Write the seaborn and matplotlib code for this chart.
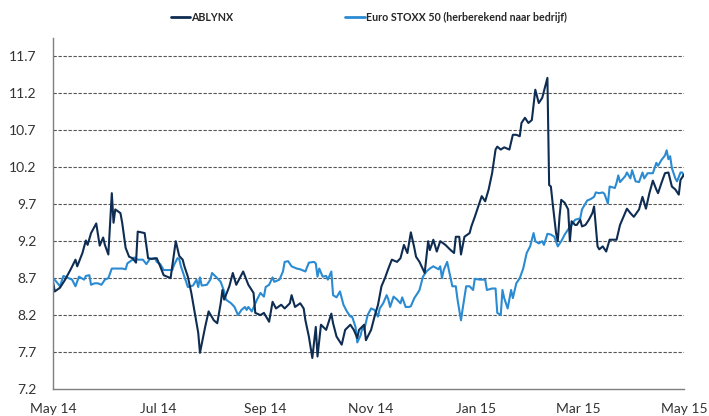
import pandas as pd
import numpy as np
import matplotlib
matplotlib.use('Agg')
import matplotlib.pyplot as plt
import matplotlib.dates as mdates
import seaborn as sns

# dagen sinds 1 mei 2014
ablynx_days = [0, 1, 4, 7, 10, 13, 14, 17, 19, 20, 22, 25, 27, 29, 30, 32, 34, 35, 36, 39,
               40, 42, 44, 46, 48, 49, 53, 55, 57, 60, 62, 64, 68, 71, 73, 75, 76, 78, 80, 82,
               84, 85, 88, 90, 93, 95, 97, 98, 99, 102, 104, 106, 108, 110, 113, 116, 117, 120, 122, 125,
               127, 129, 132, 134, 137, 138, 140, 143, 145, 146, 148, 150, 152, 153, 155, 158, 161, 162, 164, 167,
               169, 172, 174, 176, 177, 180, 181, 184, 186, 188, 190, 192, 194, 196, 199, 201, 203, 205, 207, 209,
               210, 212, 215, 217, 218, 220, 222, 224, 227, 230, 232, 233, 235, 236, 238, 241, 242, 244, 246, 248,
               250, 252, 254, 256, 257, 259, 261, 264, 266, 268, 270, 271, 273, 275, 277, 279, 281, 283, 286, 287,
               288, 289, 291, 292, 293, 294, 296, 298, 299, 300, 302, 303, 305, 306, 308, 310, 312, 313, 315, 316,
               318, 320, 322, 324, 326, 328, 330, 332, 334, 336, 339, 341, 343, 345, 347, 349, 350, 352, 354, 356,
               358, 360, 362, 363, 365]
ablynx = [8.65, 8.52, 8.57, 8.68, 8.81, 8.95, 8.86, 9.04, 9.21, 9.15, 9.31, 9.44, 9.14, 9.25, 9.15, 9.02, 9.85, 9.45, 9.63, 9.58,
          9.45, 9.11, 8.99, 8.97, 8.91, 9.33, 9.31, 8.97, 8.96, 8.97, 8.86, 8.74, 8.70, 9.20, 9.00, 8.95, 8.86, 8.72, 8.50, 8.23,
          7.96, 7.69, 8.04, 8.25, 8.13, 8.09, 8.36, 8.54, 8.41, 8.59, 8.77, 8.61, 8.70, 8.79, 8.61, 8.50, 8.23, 8.20, 8.23, 8.11,
          8.38, 8.29, 8.34, 8.29, 8.36, 8.47, 8.31, 8.36, 8.29, 8.13, 7.91, 7.62, 8.04, 7.64, 8.07, 8.00, 8.22, 8.09, 7.91, 7.80,
          8.00, 8.07, 8.00, 7.89, 8.00, 8.07, 7.86, 8.00, 8.18, 8.34, 8.59, 8.70, 8.83, 8.95, 8.92, 8.97, 9.15, 9.04, 9.32, 9.11,
          8.99, 8.92, 8.77, 9.20, 9.08, 9.22, 9.06, 9.20, 9.15, 9.08, 9.04, 9.26, 9.26, 9.02, 9.26, 9.31, 9.40, 9.53, 9.67, 9.81,
          9.74, 9.90, 10.12, 10.44, 10.48, 10.44, 10.47, 10.44, 10.64, 10.64, 10.62, 10.80, 10.87, 10.80, 10.84, 11.25, 11.07, 11.14, 11.41, 9.96,
          9.94, 9.72, 9.31, 9.20, 9.53, 9.76, 9.72, 9.63, 9.20, 9.47, 9.42, 9.42, 9.49, 9.40, 9.42, 9.49, 9.58, 9.67, 9.13, 9.09,
          9.13, 9.06, 9.22, 9.22, 9.22, 9.42, 9.53, 9.64, 9.58, 9.53, 9.63, 9.80, 9.64, 9.85, 10.02, 9.90, 9.85, 9.99, 10.12, 10.13,
          9.94, 9.90, 9.83, 10.03, 10.10]

stoxx_days = [0, 2, 4, 6, 9, 11, 13, 15, 18, 19, 21, 22, 24, 26, 28, 30, 32, 34, 37, 40,
              42, 43, 46, 47, 49, 52, 54, 56, 59, 60, 62, 64, 66, 69, 70, 72, 73, 74, 76, 78,
              81, 83, 84, 85, 86, 89, 91, 92, 95, 97, 99, 100, 103, 105, 107, 109, 111, 112, 113, 115,
              118, 120, 122, 123, 125, 127, 128, 131, 133, 134, 136, 138, 141, 143, 146, 148, 151, 152, 153, 154,
              156, 158, 159, 161, 162, 164, 166, 168, 170, 172, 173, 175, 176, 178, 179, 180, 182, 184, 186, 188,
              189, 191, 193, 194, 195, 197, 199, 201, 202, 204, 206, 207, 209, 211, 212, 214, 216, 218, 220, 223,
              224, 225, 226, 228, 231, 233, 234, 236, 237, 239, 241, 243, 244, 247, 250, 251, 254, 256, 257, 259,
              260, 261, 263, 265, 266, 268, 270, 272, 274, 276, 278, 279, 281, 283, 284, 286, 288, 290, 292, 294,
              296, 298, 300, 302, 305, 306, 307, 309, 311, 313, 314, 316, 318, 319, 321, 322, 325, 326, 327, 328,
              331, 332, 334, 335, 337, 339, 341, 342, 344, 347, 349, 350, 352, 354, 355, 356, 357, 358, 360, 361,
              363, 364, 365]
stoxx = [8.70, 8.65, 8.59, 8.73, 8.70, 8.68, 8.59, 8.72, 8.68, 8.73, 8.74, 8.61, 8.63, 8.63, 8.61, 8.68, 8.70, 8.83, 8.83, 8.83,
         8.82, 8.90, 8.95, 8.98, 8.95, 8.95, 8.89, 8.96, 8.97, 8.92, 8.89, 8.81, 8.81, 8.81, 8.88, 8.97, 8.96, 8.86, 8.72, 8.58,
         8.60, 8.68, 8.58, 8.71, 8.60, 8.61, 8.68, 8.77, 8.70, 8.65, 8.52, 8.41, 8.36, 8.31, 8.20, 8.27, 8.31, 8.27, 8.31, 8.25,
         8.41, 8.50, 8.45, 8.58, 8.61, 8.71, 8.65, 8.68, 8.79, 8.92, 8.93, 8.86, 8.83, 8.82, 8.79, 8.91, 8.92, 8.90, 8.72, 8.83,
         8.72, 8.73, 8.68, 8.79, 8.47, 8.44, 8.52, 8.34, 8.25, 8.18, 8.18, 8.04, 7.83, 7.93, 8.04, 8.00, 8.20, 8.29, 8.27, 8.18,
         8.29, 8.36, 8.47, 8.41, 8.31, 8.45, 8.41, 8.36, 8.44, 8.31, 8.31, 8.32, 8.43, 8.50, 8.54, 8.72, 8.79, 8.83, 8.86, 8.82,
         8.86, 8.70, 8.81, 8.92, 8.59, 8.59, 8.41, 8.13, 8.29, 8.59, 8.59, 8.54, 8.69, 8.68, 8.68, 8.54, 8.56, 8.56, 8.23, 8.20,
         8.54, 8.43, 8.29, 8.54, 8.43, 8.63, 8.70, 8.83, 9.04, 9.13, 9.31, 9.20, 9.17, 9.20, 9.15, 9.30, 9.29, 9.26, 9.13, 9.20,
         9.29, 9.36, 9.42, 9.49, 9.51, 9.63, 9.67, 9.75, 9.77, 9.80, 9.86, 9.85, 9.86, 9.84, 9.71, 9.94, 9.92, 9.99, 10.09, 10.00,
         10.08, 10.13, 10.05, 10.16, 10.01, 10.00, 10.13, 10.05, 10.12, 10.12, 10.26, 10.22, 10.30, 10.36, 10.43, 10.31, 10.35, 10.19, 10.05, 10.01,
         10.13, 10.13, 10.08]

names = ['ABLYNX', 'Euro STOXX 50 (herberekend naar bedrijf)']
colors = ['#0f2d52', '#2a8bd2']
yticks = [7.2, 7.7, 8.2, 8.7, 9.2, 9.7, 10.2, 10.7, 11.2, 11.7]
xticks = ['2014-05-01', '2014-07-01', '2014-09-01', '2014-11-01', '2015-01-01', '2015-03-01', '2015-05-01']

start = pd.Timestamp('2014-05-01')
df = pd.concat([
    pd.DataFrame({'datum': start + pd.to_timedelta(ablynx_days, unit='D'), 'koers': ablynx, 'reeks': names[0]}),
    pd.DataFrame({'datum': start + pd.to_timedelta(stoxx_days, unit='D'), 'koers': stoxx, 'reeks': names[1]}),
])

sns.set_style('white')
plt.rcParams['font.family'] = ['Lato', 'DejaVu Sans']

fig = plt.figure(figsize=(7.09, 4.16), dpi=100)
ax = fig.add_axes([0.0748, 0.0649, 0.8899, 0.8438])

# lichtblauw eerst zodat ABLYNX erboven ligt
sns.lineplot(data=df, x='datum', y='koers', hue='reeks', hue_order=names[::-1],
             palette=colors[::-1], linewidth=1.5, ax=ax, legend=False)

ax.set_xlim(pd.Timestamp(xticks[0]), pd.Timestamp(xticks[-1]))
ax.set_ylim(7.2, 11.95)
ax.set_yticks(yticks)
ax.set_yticklabels([f'{v:.1f}' for v in yticks])
ax.set_xticks(pd.to_datetime(xticks))
ax.xaxis.set_major_formatter(mdates.DateFormatter('%b %y'))
ax.set_xlabel('')
ax.set_ylabel('')

for v in yticks[1:]:
    ax.axhline(v, color='#555555', linestyle=(0, (3, 1.5)), linewidth=0.8, zorder=0)

for s in ['top', 'right']:
    ax.spines[s].set_visible(False)
for s in ['left', 'bottom']:
    ax.spines[s].set_color('#7f7f7f')
    ax.spines[s].set_linewidth(1.0)
ax.tick_params(axis='both', direction='out', length=4, width=1, color='#7f7f7f',
               labelsize=10, labelcolor='#333333')
ax.tick_params(axis='y', pad=8)
ax.tick_params(axis='x', pad=6)

handles = [plt.Line2D([], [], color=c, linewidth=2) for c in colors]
fig.legend(handles, names, loc='center', bbox_to_anchor=(0.52, 0.958), ncol=2, frameon=False,
           prop={'weight': 'bold', 'size': 7.7}, handlelength=1.8, handletextpad=0.1, columnspacing=10.5)

plt.savefig('out.png', dpi=100)
